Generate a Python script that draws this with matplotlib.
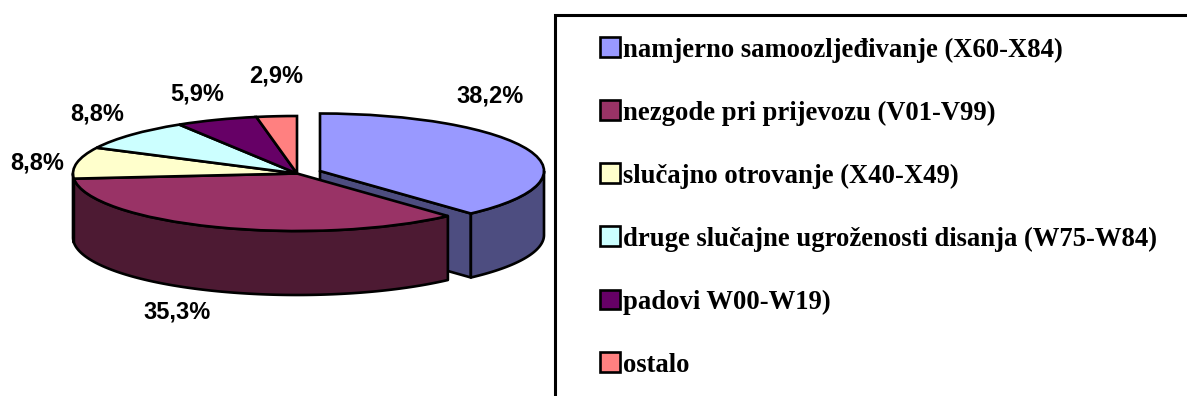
import numpy as np
import matplotlib
matplotlib.use("Agg")
import matplotlib.pyplot as plt
from matplotlib.patches import Rectangle

categories = ["namjerno samoozljeđivanje (X60-X84)",
              "nezgode pri prijevozu (V01-V99)",
              "slučajno otrovanje (X40-X49)",
              "druge slučajne ugroženosti disanja (W75-W84)",
              "padovi W00-W19)",
              "ostalo"]
values = [38.2, 35.3, 8.8, 8.8, 5.9, 2.9]
colors = ["#9999FF", "#993366", "#FFFFCC", "#CCFFFF", "#660066", "#FF8080"]
side_colors = ["#4D4D80", "#4D1A33", "#80806A", "#6A8080", "#330033", "#804040"]
# label anchor points in pixels, same order as values
label_px = [(490, 96), (177, 312), (37, 163), (97, 114), (197, 94), (276, 76)]

W, H = 1187, 396
CX, CY, RX, RY = 297.0, 173.5, 224.0, 57.5
DEPTH = 64.0 / RY
EXPL = (23.0 / RX, 2.5 / RY)
LW = 1.9

fig = plt.figure(figsize=(W / 100, H / 100), dpi=100, facecolor="white")
ax = fig.add_axes([0, 0, 1, 1])

wedges, _ = ax.pie(values, colors=colors, startangle=90, counterclock=False,
                   wedgeprops=dict(edgecolor="black", linewidth=LW, zorder=5))
ax.set_aspect("auto")
ax.set_xlim((0 - CX) / RX, (W - CX) / RX)
ax.set_ylim((CY - H) / RY, CY / RY)
ax.axis("off")
wedges[0].set_center(EXPL)

# side walls derived from the slice angles
cum = np.cumsum([0] + values) / sum(values) * 360.0
order = [0, 5, 4, 3, 2, 1]
for i in order:
    a0, a1 = cum[i], cum[i + 1]          # clockwise from the top
    ox, oy = EXPL if i == 0 else (0.0, 0.0)
    lo, hi = max(a0, 90.0), min(a1, 270.0)
    if i == 0:
        # inner cut face, seen because the slice is pulled out
        t = np.deg2rad(a1)
        cx_, cy_ = ox + np.sin(t), oy + np.cos(t)
        ax.fill([ox, cx_, cx_, ox], [oy, cy_, cy_ - DEPTH, oy - DEPTH],
                facecolor=side_colors[i], edgecolor="black", linewidth=LW,
                joinstyle="round", zorder=1)
    if hi > lo:
        t = np.deg2rad(np.linspace(lo, hi, 120))
        x = ox + np.sin(t)
        y = oy + np.cos(t)
        ax.fill(np.r_[x, x[::-1]], np.r_[y, (y - DEPTH)[::-1]],
                facecolor=side_colors[i], edgecolor="black", linewidth=LW,
                joinstyle="round", zorder=2 if i == 0 else 3)

for v, (px, py) in zip(values, label_px):
    ax.text((px - CX) / RX, (CY - py) / RY, f"{v:.1f}%".replace(".", ","),
            ha="center", va="center", fontsize=17, fontweight="bold",
            family="Liberation Sans", color="black", zorder=6)

# legend box runs off the right and bottom of the picture
fig.add_artist(Rectangle((555 / W, -20 / H), (W + 40 - 555) / W, (H - 15 + 20) / H,
                         transform=fig.transFigure, facecolor="white",
                         edgecolor="black", linewidth=2.2, zorder=0))

leg = ax.legend(wedges, categories, loc="upper left",
                bbox_to_anchor=(600 / W, 1 - 37.4 / H), bbox_transform=fig.transFigure,
                frameon=False, borderpad=0, borderaxespad=0,
                prop=dict(family="Liberation Serif", weight="bold", size=19.2),
                labelspacing=1.42, handlelength=0.75, handleheight=0.75,
                handletextpad=0.1)
leg.set_zorder(7)

fig.savefig("out.png", dpi=100)
